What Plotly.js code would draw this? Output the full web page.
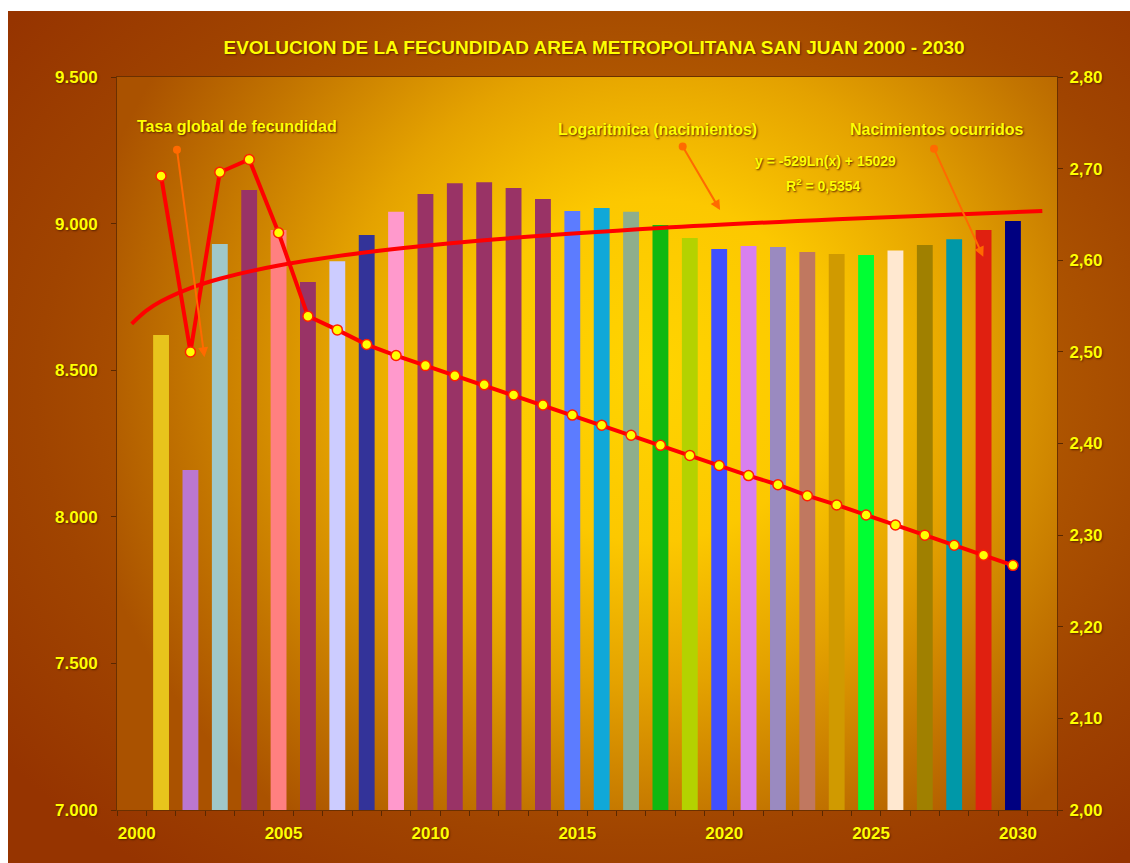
<!DOCTYPE html>
<html>
<head>
<meta charset="utf-8">
<script src="https://cdn.plot.ly/plotly-3.0.1.min.js"></script>
<style>
  html, body { margin: 0; padding: 0; background: #ffffff; }
  #wrap { position: relative; width: 1130px; height: 863px; overflow: hidden; }
  #outer { position: absolute; left: 8px; top: 11px; width: 1122px; height: 852px;
    background: radial-gradient(ellipse 70% 70% at 55% 45%, #C87400 0%, #B45C00 45%, #A04400 75%, #963400 100%); }
  #plotbg { position: absolute; left: 117px; top: 77px; width: 940px; height: 733px;
    background: radial-gradient(ellipse 62% 78% at 57% 40%, #FFD400 0%, #FCC800 30%, #E4A200 55%, #C27400 80%, #AA5200 100%); }
  #chart { position: absolute; left: 0; top: 0; width: 1130px; height: 863px; }
</style>
</head>
<body>
<div id="wrap">
  <div id="outer"></div>
  <div id="plotbg"></div>
  <div id="chart"></div>
</div>
<script>
// ---- data ----
const years = [2001, 2002, 2003, 2004, 2005, 2006, 2007, 2008, 2009, 2010,
               2011, 2012, 2013, 2014, 2015, 2016, 2017, 2018, 2019, 2020,
               2021, 2022, 2023, 2024, 2025, 2026, 2027, 2028, 2029, 2030];
// Nacimientos ocurridos (left axis)
const births = [8620, 8160, 8930, 9115, 8978, 8801, 8872, 8961, 9040, 9101,
                9138, 9141, 9121, 9084, 9043, 9053, 9040, 8995, 8951, 8913,
                8924, 8920, 8903, 8896, 8893, 8908, 8927, 8947, 8978, 9009];
// Tasa global de fecundidad (right axis)
const tgf = [2.692, 2.500, 2.696, 2.710, 2.630, 2.539, 2.524, 2.508, 2.496, 2.485,
             2.474, 2.464, 2.453, 2.442, 2.431, 2.420, 2.409, 2.398, 2.387, 2.376,
             2.365, 2.355, 2.343, 2.333, 2.322, 2.311, 2.300, 2.289, 2.278, 2.267];
// Logaritmica (nacimientos) trend line
const trendYears  = [2000, 2000.5, 2001, 2002, 2003, 2005, 2008, 2012, 2018, 2024, 2031];
const trendValues = [8658, 8703, 8735, 8780, 8812, 8857, 8902, 8943, 8985, 9015, 9043];
// x tick labels
const xTickVals = [2000, 2005, 2010, 2015, 2020, 2025, 2030];
const xTickText = ['2000', '2005', '2010', '2015', '2020', '2025', '2030'];

// ---- styles ----
const barColors = ['#E8C41C', '#BB77D0', '#A0C8C8', '#993366', '#FF8080', '#993366', '#CCCCFF', '#333399', '#FF99CC', '#993366',
                   '#993366', '#993366', '#993366', '#993366', '#5C7CFF', '#10A8D8', '#8FAE8C', '#10B810', '#B4D200', '#4050FF',
                   '#D880F0', '#9A8AC0', '#C07860', '#D09A00', '#00FF33', '#FFE8D0', '#A08000', '#0098A8', '#E02010', '#000080'];

const yellow = '#FFFF00';
const shadow = '1px 1px 2px #5A2000';
const tickFont = {family: 'Liberation Sans, Arial, sans-serif', size: 17, color: yellow, weight: 'bold', shadow: shadow};
const annFont = {family: 'Liberation Sans, Arial, sans-serif', size: 16, color: yellow, weight: 'bold', shadow: shadow};
const axisLine = '#6B3000';

const traces = [
  {
    type: 'bar', x: years, y: births, width: 0.54,
    marker: {color: barColors, line: {width: 0}},
    name: 'Nacimientos ocurridos', hoverinfo: 'skip'
  },
  {
    type: 'scatter', mode: 'lines', x: trendYears, y: trendValues,
    line: {color: '#FF0000', width: 4, shape: 'spline'},
    name: 'Logaritmica (nacimientos)', hoverinfo: 'skip'
  },
  {
    type: 'scatter', mode: 'lines+markers', x: years, y: tgf, yaxis: 'y2',
    line: {color: '#FF0000', width: 4},
    marker: {color: '#FFFF00', size: 10, line: {color: '#FF2000', width: 1.5}},
    name: 'Tasa global de fecundidad', hoverinfo: 'skip'
  }
];

function arrow(x, y, ax, ay) {
  return {xref: 'x', yref: 'y', axref: 'x', ayref: 'y', x: x, y: y, ax: ax, ay: ay,
          text: '', showarrow: true, arrowcolor: '#FF6A00', arrowwidth: 2,
          arrowhead: 2, arrowsize: 1, arrowside: 'end+start', startarrowhead: 6, startarrowsize: 1,
          standoff: 0, startstandoff: 0};
}

const layout = {
  width: 1130, height: 863,
  margin: {l: 117, r: 73, t: 77, b: 53},
  paper_bgcolor: 'rgba(0,0,0,0)',
  plot_bgcolor: 'rgba(0,0,0,0)',
  separators: ',.',
  showlegend: false,
  bargap: 0.4,
  title: {
    text: 'EVOLUCION DE LA FECUNDIDAD AREA METROPOLITANA SAN JUAN 2000 - 2030',
    xref: 'container', yref: 'container', x: 0.5257, y: 0.9455, xanchor: 'center', yanchor: 'middle',
    font: {family: 'Liberation Sans Narrow, Liberation Sans, Arial, sans-serif', size: 19, color: yellow, weight: 'bold', shadow: shadow}
  },
  xaxis: {
    range: [1999.5, 2031.5], showgrid: false, zeroline: false,
    tickmode: 'array', tickvals: xTickVals, ticktext: xTickText,
    ticks: '', ticklabelshift: 5, ticklabelstandoff: 8,
    showline: true, linecolor: axisLine, linewidth: 1, mirror: true,
    minor: {tickmode: 'linear', tick0: 1999.5, dtick: 1, ticks: 'outside', ticklen: 5, tickcolor: '#5A2800', tickwidth: 1, showgrid: false},
    tickfont: tickFont
  },
  yaxis: {
    range: [7000, 9500], dtick: 500, tick0: 7000, tickformat: ',d',
    showgrid: false, zeroline: false,
    ticks: 'outside', ticklen: 5, tickcolor: '#5A2800', ticklabelstandoff: 10,
    showline: true, linecolor: axisLine, linewidth: 1,
    tickfont: tickFont
  },
  yaxis2: {
    overlaying: 'y', side: 'right',
    range: [2.0, 2.8], dtick: 0.1, tick0: 2.0, tickformat: '.2f',
    showgrid: false, zeroline: false,
    ticks: 'outside', ticklen: 5, tickcolor: '#5A2800', ticklabelstandoff: 3,
    showline: true, linecolor: axisLine, linewidth: 1,
    tickfont: tickFont
  },
  annotations: [
    {xref: 'paper', yref: 'paper', x: 0.1277, y: 0.9318, text: 'Tasa global de fecundidad', showarrow: false,
     xanchor: 'center', yanchor: 'middle', font: annFont},
    {xref: 'paper', yref: 'paper', x: 0.5745, y: 0.9277, text: 'Logaritmica (nacimientos)', showarrow: false,
     xanchor: 'center', yanchor: 'middle', font: annFont},
    {xref: 'paper', yref: 'paper', x: 0.8723, y: 0.9277, text: 'Nacimientos ocurridos', showarrow: false,
     xanchor: 'center', yanchor: 'middle', font: annFont},
    {xref: 'paper', yref: 'paper', x: 0.7532, y: 0.8854, text: 'y = -529Ln(x) + 15029', showarrow: false,
     xanchor: 'center', yanchor: 'middle', font: Object.assign({}, annFont, {size: 14})},
    {xref: 'paper', yref: 'paper', x: 0.7521, y: 0.8527, text: 'R<sup>2</sup> = 0,5354', showarrow: false,
     xanchor: 'center', yanchor: 'middle', font: Object.assign({}, annFont, {size: 14})},
    {xref: 'container', yref: 'container', x: 0.9912, y: 0.0127, text: 'Fuente Cuadro Nº 3', showarrow: false,
     xanchor: 'right', yanchor: 'middle', font: {family: 'Liberation Sans, Arial, sans-serif', size: 14, color: '#F2E8E0'}},
    arrow(2002.475, 8544, 2001.535, 9257),
    arrow(2020.03, 9046, 2018.727, 9268),
    arrow(2028.99, 8887, 2027.29, 9260)
  ]
};

Plotly.newPlot('chart', traces, layout, {staticPlot: true, displayModeBar: false});
</script>
</body>
</html>
